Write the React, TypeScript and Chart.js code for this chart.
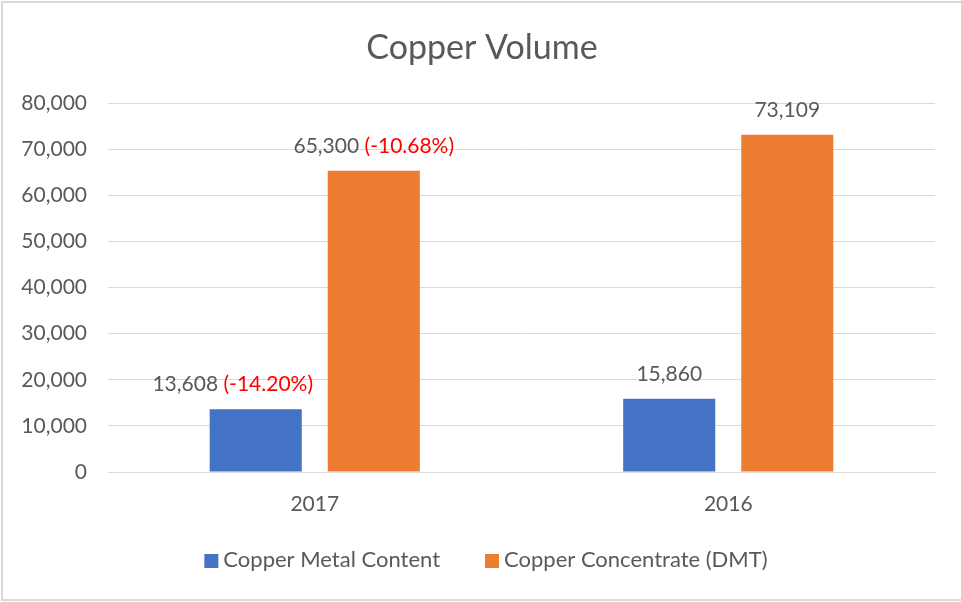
import React, { useEffect, useRef } from "react";
import { Chart, registerables } from "chart.js";

Chart.register(...registerables);

const titleText = "Copper Volume";
const categories = ["2017", "2016"];
const metalContent = [13608, 15860];
const concentrate = [65300, 73109];
const metalChange = ["(-14.20%)", ""];
const concentrateChange = ["(-10.68%)", ""];
const yTicks = [0, 10000, 20000, 30000, 40000, 50000, 60000, 70000, 80000];

const FONT = "Lato, 'Open Sans', sans-serif";
const TEXT = "#595959";
const GRID = "#d9d9d9";

const fmt = (v: number) => v.toLocaleString("en-US");

const framePlugin = {
  id: "frame",
  beforeDraw(chart: any) {
    const { ctx, width, height } = chart;
    ctx.save();
    ctx.fillStyle = "#ffffff";
    ctx.fillRect(0, 0, width, height);
    ctx.fillStyle = GRID;
    ctx.fillRect(1, 1, 2, height - 2);
    ctx.fillRect(1, 1, width - 1, 2);
    ctx.fillRect(1, height - 3, width - 1, 2);
    ctx.restore();
  },
};

const titlePlugin = {
  id: "customTitle",
  afterDraw(chart: any, _args: any, opts: any) {
    const { ctx } = chart;
    ctx.save();
    ctx.font = `34px ${FONT}`;
    ctx.fillStyle = TEXT;
    ctx.textAlign = "center";
    ctx.textBaseline = "middle";
    ctx.fillText(opts.text, opts.centerX, opts.centerY);
    ctx.restore();
  },
};

const legendPlugin = {
  id: "customLegend",
  afterDraw(chart: any, _args: any, opts: any) {
    const { ctx } = chart;
    const box = 14;
    const textGap = 5;
    const itemGap = 45;
    ctx.save();
    ctx.font = `22px ${FONT}`;
    ctx.textBaseline = "middle";
    ctx.textAlign = "left";
    const items = chart.data.datasets.map((ds: any) => ({
      label: ds.label,
      color: ds.backgroundColor,
      w: ctx.measureText(ds.label).width,
    }));
    const total =
      items.reduce((s: number, it: any) => s + box + textGap + it.w, 0) +
      itemGap * (items.length - 1);
    let x = opts.centerX - total / 2;
    const cy = opts.centerY;
    items.forEach((it: any) => {
      ctx.fillStyle = it.color;
      ctx.fillRect(x, cy - box / 2 + 1, box, box);
      ctx.fillStyle = TEXT;
      ctx.fillText(it.label, x + box + textGap, cy);
      x += box + textGap + it.w + itemGap;
    });
    ctx.restore();
  },
};

const labelPlugin = {
  id: "barLabels",
  afterDatasetsDraw(chart: any, _args: any, opts: any) {
    const { ctx } = chart;
    const changes: string[][] = opts.changes || [];
    const shifts: number[][] = opts.shifts || [];
    ctx.save();
    ctx.font = `21px ${FONT}`;
    ctx.textBaseline = "middle";
    ctx.textAlign = "left";
    chart.data.datasets.forEach((ds: any, di: number) => {
      const meta = chart.getDatasetMeta(di);
      meta.data.forEach((bar: any, i: number) => {
        const main = fmt(ds.data[i]);
        const extra = (changes[di] && changes[di][i]) || "";
        const mainW = ctx.measureText(main).width;
        const gap = extra ? ctx.measureText(" ").width : 0;
        const extraW = extra ? ctx.measureText(extra).width : 0;
        const total = mainW + gap + extraW;
        const shift = (shifts[di] && shifts[di][i]) || 0;
        const x0 = bar.x - total / 2 + shift;
        const y = bar.y - 25;
        ctx.fillStyle = TEXT;
        ctx.fillText(main, x0, y);
        if (extra) {
          ctx.fillStyle = "#ff0000";
          ctx.fillText(extra, x0 + mainW + gap, y);
        }
      });
    });
    ctx.restore();
  },
};

export default function App() {
  const ref = useRef<HTMLCanvasElement | null>(null);

  useEffect(() => {
    document.body.style.margin = "0";
    if (!ref.current) return;
    const chart = new Chart(ref.current, {
      type: "bar",
      data: {
        labels: categories,
        datasets: [
          {
            label: "Copper Metal Content",
            data: metalContent,
            backgroundColor: "#4472C4",
            categoryPercentage: 0.571,
            barPercentage: 0.78,
          },
          {
            label: "Copper Concentrate (DMT)",
            data: concentrate,
            backgroundColor: "#ED7D31",
            categoryPercentage: 0.571,
            barPercentage: 0.78,
          },
        ],
      },
      options: {
        animation: false,
        responsive: false,
        maintainAspectRatio: false,
        layout: { padding: { top: 103, right: 26, bottom: 62, left: 0 } },
        scales: {
          x: {
            grid: { display: false, drawTicks: false },
            border: { display: true, color: GRID, width: 1 },
            ticks: { color: TEXT, font: { family: FONT, size: 21 }, padding: 20 },
            afterFit: (s: any) => {
              s.height = 68;
            },
          },
          y: {
            min: 0,
            max: 80000,
            afterBuildTicks: (s: any) => {
              s.ticks = yTicks.map((v) => ({ value: v }));
            },
            grid: { color: GRID, lineWidth: 1, drawTicks: false },
            border: { display: false },
            ticks: {
              color: TEXT,
              font: { family: FONT, size: 21 },
              padding: 21,
              callback: (v: any) => fmt(Number(v)),
            },
            afterFit: (s: any) => {
              s.width = 108;
            },
          },
        },
        plugins: {
          title: { display: false },
          legend: { display: false },
          tooltip: { enabled: false },
          barLabels: {
            changes: [metalChange, concentrateChange],
            shifts: [[-23, 0], [0, 0]],
          },
          customTitle: { text: titleText, centerX: 482, centerY: 48 },
          customLegend: { centerX: 486, centerY: 560 },
        } as any,
      },
      plugins: [framePlugin, labelPlugin, titlePlugin, legendPlugin],
    });
    return () => chart.destroy();
  }, []);

  return (
    <div style={{ width: 961, height: 602 }}>
      <canvas ref={ref} width={961} height={602} style={{ display: "block" }} />
    </div>
  );
}
